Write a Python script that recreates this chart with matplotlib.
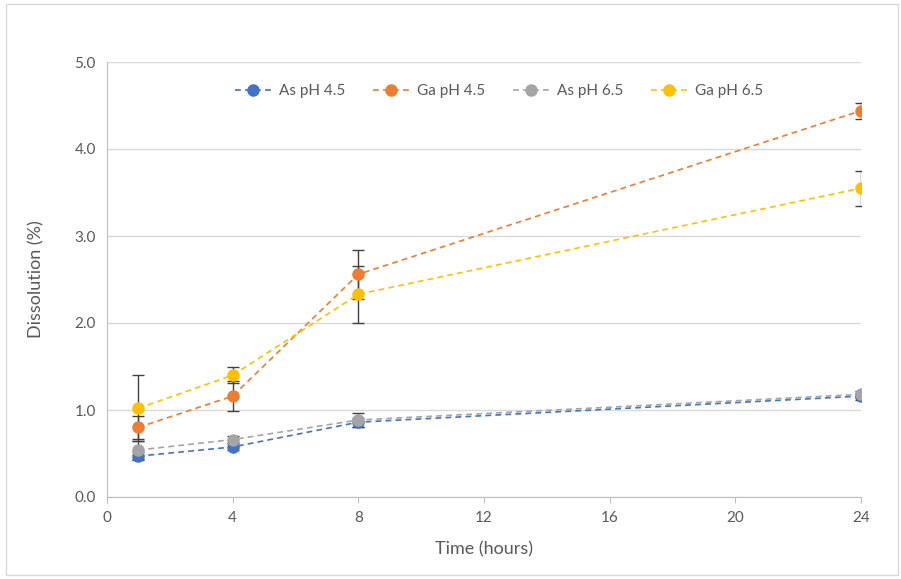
import matplotlib
matplotlib.use("Agg")
import matplotlib.pyplot as plt
from matplotlib.patches import Rectangle

plt.rcParams['font.family'] = ['Lato', 'DejaVu Sans']

hours = [1, 4, 8, 24]
as45 = [0.47, 0.575, 0.86, 1.16]
as45_err = [0.05, 0.04, 0.05, 0.04]
ga45 = [0.80, 1.16, 2.56, 4.44]
ga45_err = [0.13, 0.17, 0.28, 0.09]
as65 = [0.54, 0.66, 0.885, 1.18]
as65_err = [0.10, 0.04, 0.08, 0.04]
ga65 = [1.02, 1.40, 2.33, 3.55]
ga65_err = [0.38, 0.09, 0.33, 0.20]

series = [
    ("As pH 4.5", as45, as45_err, "#4472C4"),
    ("Ga pH 4.5", ga45, ga45_err, "#ED7D31"),
    ("As pH 6.5", as65, as65_err, "#A5A5A5"),
    ("Ga pH 6.5", ga65, ga65_err, "#FFC000"),
]

fig = plt.figure(figsize=(9.01, 5.79), dpi=100)
ax = fig.add_axes([107/901, 1-497/579, (861-107)/901, (497-62)/579])

for label, y, err, c in series:
    ax.errorbar(hours, y, yerr=err, fmt='none', ecolor='#404040', elinewidth=1,
                capsize=4, capthick=1, zorder=2)
for label, y, err, c in series:
    ax.plot(hours, y, linestyle=(0, (3.5, 2.5)), color=c, lw=1.2, marker='o',
            markersize=8, markerfacecolor=c, markeredgecolor=c, label=label, zorder=3)

ax.set_xlim(0, 24)
ax.set_ylim(0, 5)
ax.set_xticks([0, 4, 8, 12, 16, 20, 24])
ax.set_yticks([0, 1, 2, 3, 4, 5])
ax.set_yticklabels([f"{v:.1f}" for v in [0, 1, 2, 3, 4, 5]])
ax.yaxis.grid(True, color='#D9D9D9', lw=1)
ax.set_axisbelow(True)
for s in ['top', 'right']:
    ax.spines[s].set_visible(False)
ax.spines['left'].set_color('#BFBFBF')
ax.spines['bottom'].set_color('#BFBFBF')
ax.tick_params(axis='both', colors='#595959', labelsize=11, length=0, pad=8)
ax.tick_params(axis='x', length=4, color='#BFBFBF', direction='out', pad=6)
ax.set_xlabel("Time (hours)", fontsize=13, color='#595959', labelpad=12)
ax.set_ylabel("Dissolution (%)", fontsize=13, color='#595959', labelpad=22)

ax.legend(loc='upper center', bbox_to_anchor=(0.52, 0.98), ncol=4, frameon=False,
          fontsize=11, labelcolor='#595959', handlelength=2.4, columnspacing=1.8,
          handletextpad=0.5)

fig.patches.append(Rectangle((6/901, 4/579), 892/901, 571/579, transform=fig.transFigure,
                             fill=False, edgecolor='#D9D9D9', lw=1))

fig.savefig("out.png", dpi=100)
